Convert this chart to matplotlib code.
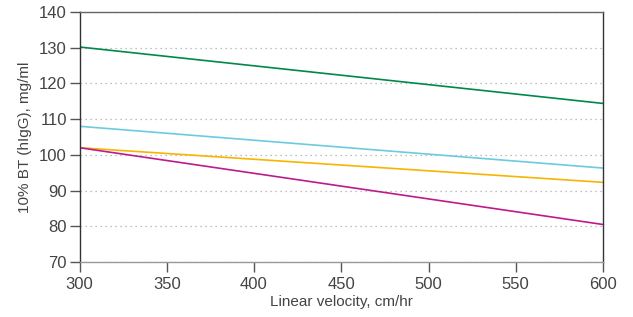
import matplotlib.pyplot as plt

# === Data ===
velocity = [300, 600]
bt_green = [130.2, 114.4]
bt_cyan = [108.0, 96.3]
bt_orange = [102.0, 92.3]
bt_magenta = [102.0, 80.5]

plt.rcParams["font.family"] = ["Liberation Sans", "DejaVu Sans"]
text_col = "#444444"

fig = plt.figure(figsize=(6.33, 3.17), dpi=100)
ax = fig.add_axes([79.5 / 633, 1 - 262 / 317, (603 - 79.5) / 633, (262 - 12) / 317])

ax.plot(velocity, bt_green, color="#00884a", lw=1.2)
ax.plot(velocity, bt_cyan, color="#6ccbe0", lw=1.2)
ax.plot(velocity, bt_orange, color="#f7b500", lw=1.2)
ax.plot(velocity, bt_magenta, color="#be1a8c", lw=1.2)

ax.set_xlim(300, 600)
ax.set_ylim(70, 140)
ax.set_xticks(range(300, 601, 50))
ax.set_yticks(range(70, 141, 10))
ax.grid(True, axis="y", linestyle=(0, (1, 3)), color="#aaaaaa", lw=0.9)

for s in ax.spines.values():
    s.set_color("#333333")
    s.set_linewidth(1.0)
ax.spines["top"].set_color("#666666")
ax.spines["bottom"].set_color("#999999")

ax.tick_params(direction="out", length=7, width=1.0, colors="#555555",
               labelcolor=text_col, labelsize=12, pad=2)
ax.tick_params(axis="x", pad=4)
ax.set_xlabel("Linear velocity, cm/hr", fontsize=11, color=text_col, labelpad=2)
ax.set_ylabel("10% BT (hIgG), mg/ml", fontsize=11, color=text_col, labelpad=5)

plt.savefig("out.png", dpi=100)
plt.close()
